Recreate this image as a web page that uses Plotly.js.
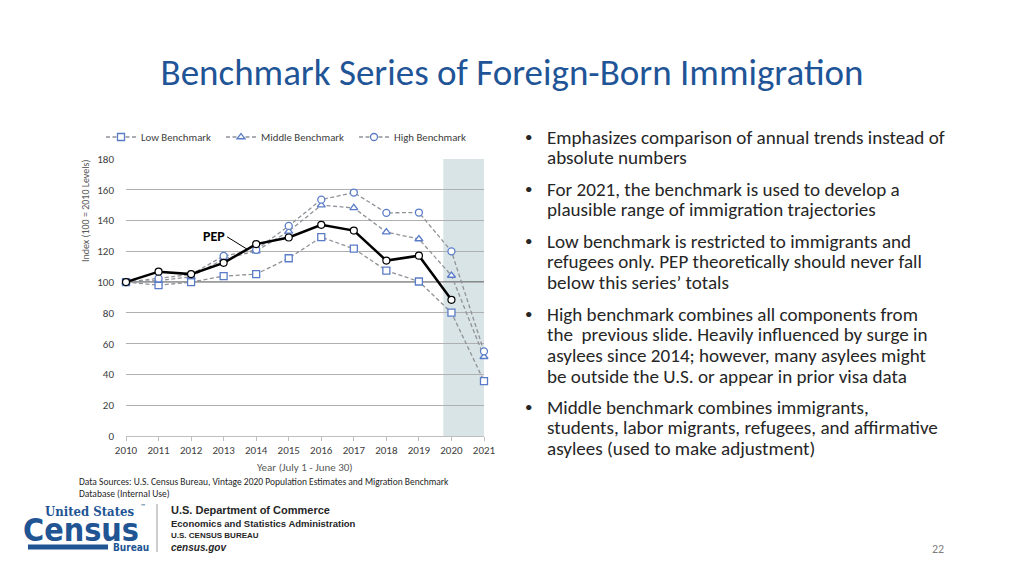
<!DOCTYPE html>
<html>
<head>
<meta charset="utf-8">
<script src="https://cdn.plot.ly/plotly-3.0.1.min.js"></script>
<style>
  html, body { margin: 0; padding: 0; background: #fff; }
  #chart { width: 1024px; height: 576px; }
</style>
</head>
<body>
<div id="chart"></div>
<script>
// years on the x axis
const years = [2010, 2011, 2012, 2013, 2014, 2015, 2016, 2017, 2018, 2019, 2020, 2021];

// index values (100 = 2010 level)
const pep = [100, 106.8, 105.2, 112.5, 124.7, 129, 137.2, 133.5, 114, 117.2, 88.5, null];
const lowBench = [100, 98, 100, 103.9, 105.2, 115.5, 129.2, 121.7, 107.5, 100.4, 80.2, 35.6];
const midBench = [100, 101, 103.5, 115, 120.2, 133, 150, 148.2, 132.5, 128, 104.3, 51.5];
const highBench = [100, 102.4, 105, 117, 121, 136.5, 153.6, 158.2, 145, 145.2, 120, 55];

const seriesNames = ["Low Benchmark", "Middle Benchmark", "High Benchmark"];

// bullet paragraphs, one entry per printed line
const bullets = [
  ["Emphasizes comparison of annual trends instead of", "absolute numbers"],
  ["For 2021, the benchmark is used to develop a", "plausible range of immigration trajectories"],
  ["Low benchmark is restricted to immigrants and", "refugees only. PEP theoretically should never fall", "below this series\u2019 totals"],
  ["High benchmark combines all components from", "the  previous slide. Heavily influenced by surge in", "asylees since 2014; however, many asylees might", "be outside the U.S. or appear in prior visa data"],
  ["Middle benchmark combines immigrants,", "students, labor migrants, refugees, and affirmative", "asylees (used to make adjustment)"]
];

// page pixel -> paper fraction (paper covers the whole page)
const W = 1024, H = 576;
const fx = (x) => x / W;
const fy = (y) => 1 - y / H;

const FONT = "Carlito, Lato, sans-serif";
const BLUE = "#5a7cc8";
const DASH_GREY = "#8f9298";
const TEXT = "#262626";

function benchTrace(name, y, symbol, legendId) {
  return {
    x: years, y: y, name: name, legend: legendId,
    type: "scatter", mode: "lines+markers",
    line: { color: DASH_GREY, width: 1.3, dash: "4px,2.5px" },
    marker: { symbol: symbol, size: 7, color: "#ffffff", line: { color: BLUE, width: 1.3 } },
    cliponaxis: false
  };
}

const data = [
  benchTrace(seriesNames[0], lowBench, "square", "legend"),
  benchTrace(seriesNames[1], midBench, "triangle-up", "legend2"),
  benchTrace(seriesNames[2], highBench, "circle", "legend3"),
  {
    x: years, y: pep, name: "PEP", showlegend: false,
    type: "scatter", mode: "lines+markers",
    line: { color: "#000000", width: 2.5 },
    marker: { symbol: "circle", size: 7, color: "#ffffff", line: { color: "#000000", width: 1.2 } },
    cliponaxis: false
  }
];

function label(x, y, text, size, color, opts) {
  return Object.assign({
    xref: "paper", yref: "paper", x: fx(x), y: fy(y),
    xanchor: "left", yanchor: "middle", showarrow: false,
    text: text, font: { family: FONT, size: size, color: color }
  }, opts || {});
}

const annotations = [];

// bullet text on the right
const lineGap = 20.8;
const bulletStarts = [137, 189, 241, 314, 407];
bullets.forEach((lines, i) => {
  annotations.push(label(523, bulletStarts[i], "\u2022", 15, TEXT));
  lines.forEach((ln, j) => {
    annotations.push(label(545, bulletStarts[i] + j * lineGap, ln, 19.1, TEXT));
  });
});

// PEP label
annotations.push({
  x: 2013.75, y: 121, xref: "x", yref: "y",
  text: "<b>PEP</b>", showarrow: true, arrowhead: 0, arrowwidth: 1, arrowcolor: "#000",
  ax: -21, ay: -13, xanchor: "right", yanchor: "middle",
  font: { family: FONT, size: 14, color: "#000" }
});

// axis titles
annotations.push(label(85, 211, "Index (100 = 2010 Levels)", 10, "#595959",
  { xanchor: "center", textangle: -90 }));
annotations.push(label(305, 467, "Year (July 1 - June 30)", 11, "#595959", { xanchor: "center" }));

// data source note
annotations.push(label(77, 482, "Data Sources: U.S. Census Bureau, Vintage 2020 Population Estimates and Migration Benchmark", 9.5, TEXT));
annotations.push(label(77, 494, "Database (Internal Use)", 9.5, TEXT));

// logo
const LOGO = "#205493";
const CONDENSED = "Liberation Sans Narrow, DejaVu Sans Condensed";
annotations.push(
  label(137, 511, "<b>United States</b>", 13, LOGO, { xanchor: "right", font: { family: "DejaVu Serif Condensed, DejaVu Serif", size: 13, color: LOGO } }),
  label(139, 506, "\u2122", 6, LOGO),
  label(81, 530, "<b>Census</b>", 32, LOGO, { xanchor: "center", font: { family: CONDENSED, size: 32, color: LOGO } }),
  label(131, 547, "<b>Bureau</b>", 10, LOGO, { xanchor: "center", font: { family: CONDENSED, size: 10, color: LOGO } }),
  label(169, 510, "<b>U.S. Department of Commerce</b>", 11, TEXT, { font: { family: "Liberation Sans", size: 11, color: TEXT } }),
  label(169, 523, "<b>Economics and Statistics Administration</b>", 9.5, TEXT, { font: { family: "Liberation Sans", size: 9.5, color: TEXT } }),
  label(169, 535, "<b>U.S. CENSUS BUREAU</b>", 8, TEXT, { font: { family: "Liberation Sans", size: 8, color: TEXT } }),
  label(169, 547, "<b><i>census.gov</i></b>", 10, TEXT, { font: { family: "Liberation Sans", size: 10, color: TEXT } })
);

// page number
annotations.push(label(938, 549, "22", 12, "#7f7f7f", { xanchor: "center" }));

const shapes = [
  // projection band for 2020-2021
  { type: "rect", xref: "x", yref: "y", x0: 2019.75, x1: 2021, y0: 0, y1: 180,
    fillcolor: "#d9e4e7", line: { width: 0 }, layer: "below" },
  // 100 baseline
  { type: "line", xref: "x", yref: "y", x0: 2010, x1: 2021, y0: 100, y1: 100,
    line: { color: "#000", width: 1 }, layer: "below" },
  // logo bar and separator
  { type: "line", xref: "paper", yref: "paper", x0: fx(28), x1: fx(108), y0: fy(547), y1: fy(547),
    line: { color: LOGO, width: 5 } },
  { type: "line", xref: "paper", yref: "paper", x0: fx(157), x1: fx(157), y0: fy(504), y1: fy(552),
    line: { color: "#9a9a9a", width: 1 } }
];

function legendAt(x) {
  return {
    orientation: "h", xref: "paper", yref: "paper", x: fx(x), y: fy(137),
    xanchor: "left", yanchor: "middle", bgcolor: "rgba(0,0,0,0)",
    font: { family: FONT, size: 10.8, color: "#404040" }, itemwidth: 30
  };
}

const layout = {
  width: W, height: H,
  margin: { l: 0, r: 0, t: 0, b: 0, pad: 0 },
  paper_bgcolor: "#ffffff", plot_bgcolor: "#ffffff",
  font: { family: FONT, color: "#595959" },
  title: {
    text: "Benchmark Series of Foreign-Born Immigration",
    xref: "container", yref: "container", x: 0.5, y: fy(72),
    xanchor: "center", yanchor: "middle",
    font: { family: FONT, size: 37, color: "#1f5597" }
  },
  xaxis: {
    domain: [fx(126), fx(484)],
    range: [2010, 2021], tickvals: years, ticktext: years.map(String),
    showgrid: false, zeroline: false, showline: true, linecolor: "#bfbfbf", linewidth: 1,
    ticks: "outside", ticklen: 4, tickcolor: "#bfbfbf",
    tickfont: { family: FONT, size: 11, color: "#404040" }
  },
  yaxis: {
    domain: [fy(436), fy(159)],
    range: [0, 180], dtick: 20, showgrid: true, gridcolor: "#b0b0b0", gridwidth: 1,
    zeroline: false, showline: false, ticks: "", ticklabelstandoff: 11,
    tickfont: { family: FONT, size: 11, color: "#404040" }
  },
  showlegend: true,
  legend: legendAt(101),
  legend2: legendAt(221),
  legend3: legendAt(354),
  annotations: annotations,
  shapes: shapes
};

Plotly.newPlot("chart", data, layout, { displayModeBar: false, staticPlot: true });
</script>
</body>
</html>
